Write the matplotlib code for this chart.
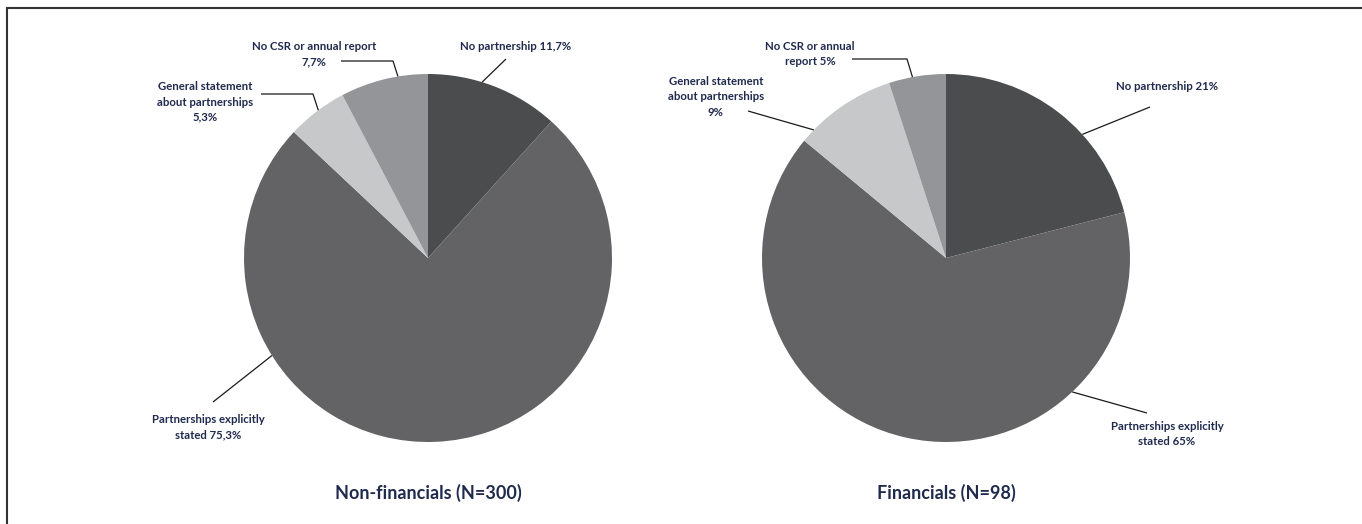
import numpy as np
import matplotlib
matplotlib.use("Agg")
import matplotlib.pyplot as plt
from matplotlib.lines import Line2D

# data
categories = ["No partnership", "Partnerships explicitly stated",
              "General statement about partnerships", "No CSR or annual report"]
non_financials = [11.7, 75.3, 5.3, 7.7]
financials = [21, 65, 9, 5]
titles = ["Non-financials (N=300)", "Financials (N=98)"]
labels_nonfin = ["No partnership 11,7%", "Partnerships explicitly\nstated 75,3%",
                 "General statement\nabout partnerships\n5,3%", "No CSR or annual report\n7,7%"]
labels_fin = ["No partnership 21%", "Partnerships explicitly\nstated 65%",
              "General statement\nabout partnerships\n9%", "No CSR or annual\nreport 5%"]

colors = ["#4b4c4e", "#636365", "#c7c8ca", "#939598"]
txt_col = "#1f2a4d"
W, H = 1362, 524
R = 184

# layout in pixels (y from top): pie centre, label centre, leader bend points, edge angle
pies = [
    dict(values=non_financials, labels=labels_nonfin, title=titles[0], cx=428, cy=258,
         text=[(516, 47), (208, 427), (205, 102), (314, 54)],
         bends=[[(506, 59)], [(213, 402)], [(261, 94), (313, 94)], [(341, 61), (393, 61)]],
         edge=[72.9, 212, 126.6, 99.4]),
    dict(values=financials, labels=labels_fin, title=titles[1], cx=946, cy=258,
         text=[(1167, 87), (1167, 434), (716, 97), (810, 54)],
         bends=[[(1150, 107)], [(1147, 413)], [(748, 111)], [(852, 59), (907, 59)]],
         edge=[42.2, -46.7, 135.9, 100.5]),
]

plt.rcParams['font.family'] = ['Lato', 'DejaVu Sans']
fig = plt.figure(figsize=(W / 100, H / 100), dpi=100)
ax = fig.add_axes([0, 0, 1, 1])

for p in pies:
    cx, cy = p["cx"], H - p["cy"]
    ax.pie(p["values"], colors=colors, startangle=90, counterclock=False,
           center=(cx, cy), radius=R, wedgeprops=dict(linewidth=0))
    for lab, (tx, ty), bends, ang in zip(p["labels"], p["text"], p["bends"], p["edge"]):
        ax.text(tx, H - ty, lab, ha="center", va="center", fontsize=8.2,
                fontweight="bold", color=txt_col, linespacing=1.45)
        xs = [b[0] for b in bends] + [cx + R * np.cos(np.radians(ang))]
        ys = [H - b[1] for b in bends] + [cy + R * np.sin(np.radians(ang))]
        ax.plot(xs, ys, color="#1a1a1a", lw=0.9, solid_capstyle="butt")
    ax.text(p["cx"], H - 493, p["title"], ha="center", va="center", fontsize=13,
            fontweight="bold", color=txt_col)

ax.set_xlim(0, W)
ax.set_ylim(0, H)
ax.set_aspect("equal")
ax.axis("off")

# frame lines (top and left)
fig.add_artist(Line2D([7 / W, 1], [1 - 8 / H, 1 - 8 / H], color="#333333", lw=1.5))
fig.add_artist(Line2D([7 / W, 7 / W], [0, 1 - 8 / H], color="#333333", lw=1.5))

fig.savefig("out.png", dpi=100)
